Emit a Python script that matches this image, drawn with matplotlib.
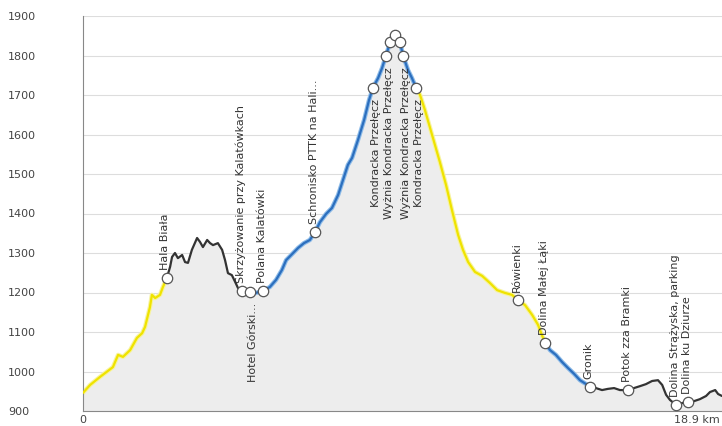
import matplotlib.pyplot as plt
import numpy as np

# elevation profile, km along route and metres
# each segment has its own colour in the original chart
seg_colors = ['#efe300', '#333333', '#2c6fbe', '#efe300', '#2c6fbe', '#333333']
halo_colors = {'#efe300': '#f7f3a0', '#2c6fbe': '#8dbbe8'}

seg_km = [
    [0.00, 0.22, 0.52, 0.92, 1.08, 1.23, 1.45, 1.66, 1.82, 1.91, 2.06, 2.12, 2.22, 2.37, 2.46, 2.58],
    [2.58, 2.68, 2.74, 2.83, 2.92, 3.05, 3.14, 3.23, 3.35, 3.51, 3.60, 3.69, 3.82, 3.91, 4.00, 4.15,
     4.28, 4.37, 4.46, 4.58, 4.68, 4.77, 4.89],
    [4.89, 5.14, 5.32, 5.54, 5.75, 5.94, 6.12, 6.25, 6.43, 6.62, 6.80, 6.98, 7.14, 7.29, 7.48, 7.66,
     7.85, 8.00, 8.15, 8.28, 8.46, 8.65, 8.80, 8.92, 9.08, 9.20, 9.32, 9.45, 9.60, 9.75, 9.85, 10.00,
     10.12, 10.25],
    [10.25, 10.37, 10.52, 10.68, 10.83, 10.98, 11.17, 11.35, 11.54, 11.69, 11.85, 12.06, 12.28, 12.52,
     12.74, 12.98, 13.20, 13.38, 13.60, 13.82, 14.00, 14.12, 14.22],
    [14.22, 14.37, 14.55, 14.74, 14.92, 15.11, 15.29, 15.48, 15.60],
    [15.60, 15.78, 15.97, 16.15, 16.34, 16.52, 16.77, 16.95, 17.14, 17.32, 17.51, 17.69, 17.82, 17.94,
     18.06, 18.25, 18.43, 18.62, 18.80, 18.98, 19.17, 19.29, 19.45, 19.54, 19.66],
]
seg_m = [
    [946, 966, 986, 1011, 1042, 1037, 1054, 1085, 1097, 1113, 1163, 1194, 1186, 1194, 1214, 1237],
    [1237, 1265, 1290, 1300, 1287, 1295, 1277, 1275, 1308, 1338, 1328, 1315, 1333, 1325, 1320, 1325,
     1308, 1282, 1249, 1244, 1227, 1211, 1204],
    [1204, 1201, 1199, 1204, 1214, 1232, 1257, 1282, 1297, 1313, 1325, 1333, 1353, 1378, 1399, 1414,
     1447, 1485, 1523, 1541, 1586, 1637, 1687, 1718, 1743, 1768, 1799, 1834, 1852, 1834, 1799, 1763,
     1743, 1718],
    [1718, 1700, 1662, 1616, 1573, 1530, 1472, 1409, 1346, 1308, 1277, 1252, 1242, 1224,
     1206, 1199, 1194, 1181, 1168, 1143, 1118, 1092, 1072],
    [1072, 1054, 1042, 1024, 1009, 994, 978, 968, 961],
    [961, 958, 953, 956, 958, 953, 953, 958, 963, 968, 976, 978, 966, 941,
     928, 915, 920, 923, 925, 930, 938, 948, 953, 943, 938],
]

# waypoints
wp_names = ['Hala Biała', 'Skrzyżowanie przy Kalatówkach', 'Hotel Górski...', 'Polana Kalatówki',
            'Schronisko PTTK na Hali...', 'Kondracka Przełęcz', 'Wyżnia Kondracka Przełęcz', '', '', '',
            'Wyżnia Kondracka Przełęcz', 'Kondracka Przełęcz', 'Rówienki', 'Dolina Małej Łąki',
            'Gronik', 'Potok zza Bramki', 'Dolina Strążyska, parking', 'Dolina ku Dziurze']
wp_km = [2.58, 4.89, 5.14, 5.54, 7.14, 8.92, 9.32, 9.45, 9.60, 9.75, 9.85, 10.25,
         13.38, 14.22, 15.60, 16.77, 18.25, 18.62]
wp_m = [1237, 1204, 1201, 1204, 1353, 1718, 1799, 1834, 1852, 1834, 1799, 1718,
        1181, 1072, 961, 953, 915, 923]
wp_below = [False, False, True, False, False, True, True, False, False, False, True, True,
            False, False, False, False, False, False]

yticks = [900, 1000, 1100, 1200, 1300, 1400, 1500, 1600, 1700, 1800, 1900]
xticks = [0, 18.9]
xlabels = ['0', '18.9 km']

fig = plt.figure(figsize=(7.22, 4.26), dpi=100)
ax = fig.add_axes([83/722, 15/426, 1 - 83/722, 395/426])

all_km = np.concatenate(seg_km)
all_m = np.concatenate(seg_m)
ax.fill_between(all_km, all_m, 900, color='#ededed', zorder=1, linewidth=0)

for k, m, c in zip(seg_km, seg_m, seg_colors):
    if c in halo_colors:
        ax.plot(k, m, color=halo_colors[c], lw=3.2, zorder=2, solid_capstyle='round')
    ax.plot(k, m, color=c, lw=1.6, zorder=3, solid_capstyle='round')

ax.scatter(wp_km, wp_m, s=56, facecolor='white', edgecolor='#555555', linewidth=0.9, zorder=5)

for name, k, m, below in zip(wp_names, wp_km, wp_m, wp_below):
    if not name:
        continue
    if below:
        ax.annotate(name, (k, m), xytext=(2, -8), textcoords='offset points', rotation=90,
                    ha='center', va='top', fontsize=8, color='#333333', zorder=6)
    else:
        ax.annotate(name, (k, m), xytext=(-1, 6), textcoords='offset points', rotation=90,
                    ha='center', va='bottom', fontsize=8, color='#333333', zorder=6)

ax.set_xlim(0, 19.66)
ax.set_ylim(900, 1900)
ax.set_yticks(yticks)
ax.set_yticklabels([str(v) for v in yticks])
for lbl in ax.get_yticklabels():
    lbl.set_horizontalalignment('left')
ax.set_xticks(xticks)
ax.set_xticklabels(xlabels)
ax.tick_params(axis='y', length=0, pad=54, labelsize=8, labelcolor='#444444')
ax.tick_params(axis='x', length=0, pad=3, labelsize=8, labelcolor='#444444')
ax.grid(axis='y', color='#dddddd', lw=0.8, zorder=0)
ax.set_axisbelow(True)

for s in ['top', 'right']:
    ax.spines[s].set_visible(False)
ax.spines['left'].set_color('#888888')
ax.spines['bottom'].set_color('#888888')
ax.spines['left'].set_linewidth(0.8)
ax.spines['bottom'].set_linewidth(0.8)

fig.savefig('out.png', dpi=100)
